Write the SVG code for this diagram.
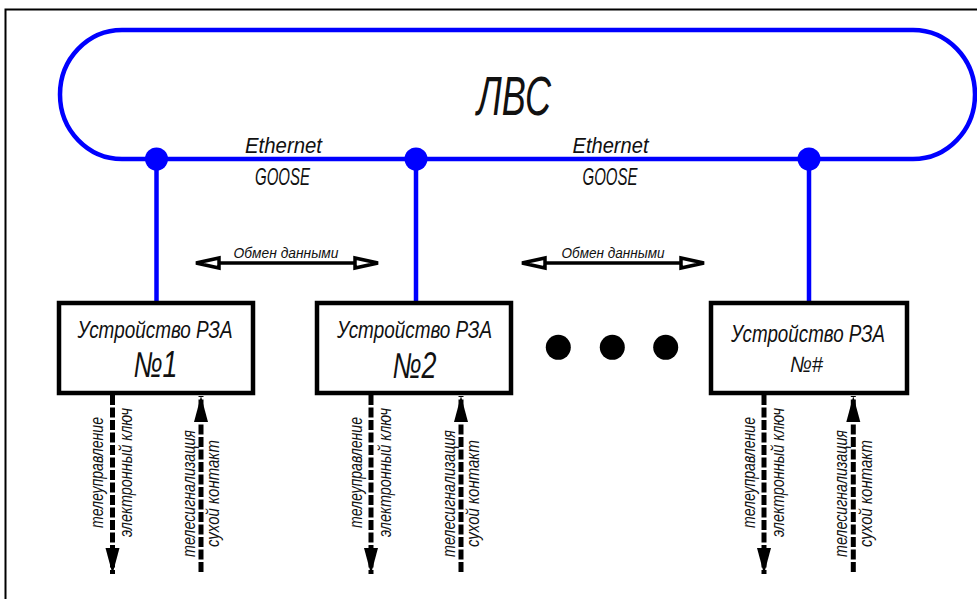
<svg xmlns="http://www.w3.org/2000/svg" width="977" height="599" viewBox="0 0 977 599">
<style>
  text { font-family: "Liberation Sans", Arial, sans-serif; font-style: italic; fill: #111; }
  .blue { stroke: #0000ff; stroke-width: 4.5; fill: none; }
  .dot { fill: #0000ff; }
  .box { fill: #fff; stroke: #000; stroke-width: 4.5; }
  .sig { stroke: #000; stroke-width: 5; fill: none; stroke-dasharray: 10 2.5; }
  .xchg { stroke: #000; stroke-width: 3.5; fill: none; }
  .open { fill: #fff; stroke: #000; stroke-width: 3.5; stroke-linejoin: miter; }
  .head { fill: #000; }
  .lbl { font-size: 18px; }
  .title { font-size: 23px; }
</style>
<defs>
  <marker id="sigHead" markerUnits="userSpaceOnUse" markerWidth="30" markerHeight="20" refX="26" refY="7" orient="auto" viewBox="0 0 30 14">
    <path class="head" d="M0 0 L26 7 L0 14 Z"/>
  </marker>
</defs>

<rect x="5.5" y="9.5" width="1000" height="700" fill="none" stroke="#000" stroke-width="2"/>

<g id="lan">
  <path class="blue" d="M122 30 H913 A62 64.5 0 0 1 913 159 H122 A62 64.5 0 0 1 122 30 Z"/>
  <text x="514" y="115" font-size="56" text-anchor="middle" textLength="74" lengthAdjust="spacingAndGlyphs">ЛВС</text>
  <text x="283.5" y="153" font-size="22" text-anchor="middle" textLength="77" lengthAdjust="spacingAndGlyphs">Ethernet</text>
  <text x="282.5" y="184.5" font-size="24" text-anchor="middle" textLength="55" lengthAdjust="spacingAndGlyphs">GOOSE</text>
  <text x="610.5" y="153" font-size="22" text-anchor="middle" textLength="76" lengthAdjust="spacingAndGlyphs">Ethernet</text>
  <text x="610" y="184.5" font-size="24" text-anchor="middle" textLength="55" lengthAdjust="spacingAndGlyphs">GOOSE</text>
</g>

<g id="connectors">
  <line class="blue" x1="156.5" y1="159" x2="156.5" y2="302"/>
  <line class="blue" x1="416" y1="159" x2="416" y2="302"/>
  <line class="blue" x1="809" y1="159" x2="809" y2="302"/>
  <circle class="dot" cx="156.5" cy="159" r="11.5"/>
  <circle class="dot" cx="416" cy="159" r="11.5"/>
  <circle class="dot" cx="809" cy="159" r="11.5"/>

  <g id="exchange1">
    <line class="xchg" x1="219" y1="263" x2="355" y2="263"/>
    <polygon class="open" points="196,263 219,258 219,268"/>
    <polygon class="open" points="378,263 355,258 355,268"/>
    <text x="286" y="258" font-size="15" text-anchor="middle" textLength="105" lengthAdjust="spacingAndGlyphs">Обмен данными</text>
  </g>
  <g id="exchange2">
    <line class="xchg" x1="545" y1="263" x2="681" y2="263"/>
    <polygon class="open" points="522,263 545,258 545,268"/>
    <polygon class="open" points="704,263 681,258 681,268"/>
    <text x="613" y="258" font-size="15" text-anchor="middle" textLength="103" lengthAdjust="spacingAndGlyphs">Обмен данными</text>
  </g>
</g>

<g id="device1" transform="translate(59,0)">
  <rect class="box" x="0" y="303" width="194" height="90"/>
  <text class="title" x="96" y="337.5" text-anchor="middle" textLength="155" lengthAdjust="spacingAndGlyphs">Устройство РЗА</text>
  <text x="96.5" y="377" font-size="36" text-anchor="middle" textLength="44" lengthAdjust="spacingAndGlyphs">№1</text>
  <path class="sig" d="M53.5 395 V574" marker-end="url(#sigHead)"/>
  <path class="sig" d="M142 572 V396" marker-end="url(#sigHead)"/>
  <text class="lbl" transform="translate(44,472.5) rotate(-90)" text-anchor="middle" textLength="111" lengthAdjust="spacingAndGlyphs">телеуправление</text>
  <text class="lbl" transform="translate(73,472.5) rotate(-90)" text-anchor="middle" textLength="129" lengthAdjust="spacingAndGlyphs">электронный ключ</text>
  <text class="lbl" transform="translate(136,493.5) rotate(-90)" text-anchor="middle" textLength="127" lengthAdjust="spacingAndGlyphs">телесигнализация</text>
  <text class="lbl" transform="translate(160,493.5) rotate(-90)" text-anchor="middle" textLength="107" lengthAdjust="spacingAndGlyphs">сухой контакт</text>
</g>

<g id="device2" transform="translate(317,0)">
  <rect class="box" x="0" y="303" width="194" height="90"/>
  <text class="title" x="97.5" y="337.5" text-anchor="middle" textLength="155" lengthAdjust="spacingAndGlyphs">Устройство РЗА</text>
  <text x="97.5" y="378" font-size="36" text-anchor="middle" textLength="44" lengthAdjust="spacingAndGlyphs">№2</text>
  <path class="sig" d="M54 395 V574" marker-end="url(#sigHead)"/>
  <path class="sig" d="M144 572 V396" marker-end="url(#sigHead)"/>
  <text class="lbl" transform="translate(44.5,472.5) rotate(-90)" text-anchor="middle" textLength="111" lengthAdjust="spacingAndGlyphs">телеуправление</text>
  <text class="lbl" transform="translate(73.5,472.5) rotate(-90)" text-anchor="middle" textLength="129" lengthAdjust="spacingAndGlyphs">электронный ключ</text>
  <text class="lbl" transform="translate(138,493.5) rotate(-90)" text-anchor="middle" textLength="127" lengthAdjust="spacingAndGlyphs">телесигнализация</text>
  <text class="lbl" transform="translate(162,493.5) rotate(-90)" text-anchor="middle" textLength="107" lengthAdjust="spacingAndGlyphs">сухой контакт</text>
</g>

<g id="ellipsis">
  <circle cx="558.3" cy="347.3" r="12.5" fill="#000"/>
  <circle cx="612.3" cy="347.3" r="12.5" fill="#000"/>
  <circle cx="665.7" cy="347.3" r="12.5" fill="#000"/>
</g>

<g id="device3" transform="translate(711,0)">
  <rect class="box" x="0" y="303" width="196" height="90"/>
  <text class="title" x="97" y="342" text-anchor="middle" textLength="154" lengthAdjust="spacingAndGlyphs">Устройство РЗА</text>
  <text x="95.5" y="372" font-size="22" text-anchor="middle" textLength="33" lengthAdjust="spacingAndGlyphs">№#</text>
  <path class="sig" d="M53 395 V574" marker-end="url(#sigHead)"/>
  <path class="sig" d="M142.3 572 V396" marker-end="url(#sigHead)"/>
  <text class="lbl" transform="translate(44,472.5) rotate(-90)" text-anchor="middle" textLength="111" lengthAdjust="spacingAndGlyphs">телеуправление</text>
  <text class="lbl" transform="translate(73,472.5) rotate(-90)" text-anchor="middle" textLength="129" lengthAdjust="spacingAndGlyphs">электронный ключ</text>
  <text class="lbl" transform="translate(136,493.5) rotate(-90)" text-anchor="middle" textLength="127" lengthAdjust="spacingAndGlyphs">телесигнализация</text>
  <text class="lbl" transform="translate(160.5,493.5) rotate(-90)" text-anchor="middle" textLength="107" lengthAdjust="spacingAndGlyphs">сухой контакт</text>
</g>
</svg>
